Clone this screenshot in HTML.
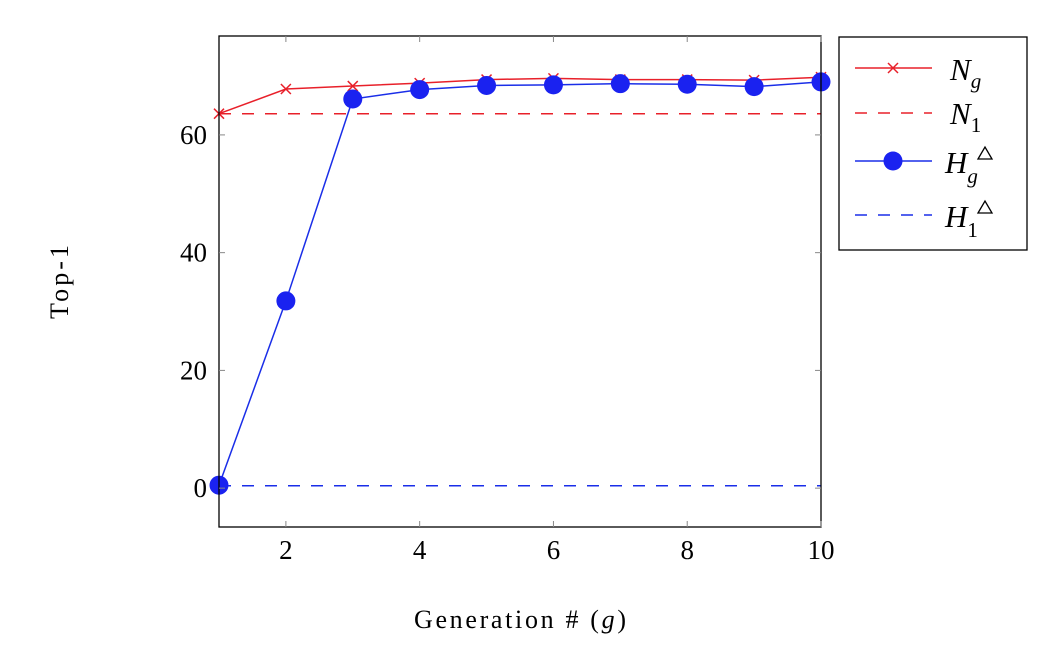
<!DOCTYPE html>
<html><head><meta charset="utf-8"><style>
body{margin:0;background:#fff;}
svg{display:block;font-family:"Liberation Serif",serif;}
</style></head><body>
<svg id="chart" width="1064" height="658" xmlns="http://www.w3.org/2000/svg">
<g id="grid"></g>
<g id="series"></g>
<rect x="219" y="36" width="602" height="491" fill="none" stroke="#000" stroke-width="1.3"/>
<g id="ticks"></g>
<text x="520" y="628" font-size="26" text-anchor="middle" textLength="212">Generation # (<tspan font-style="italic">g</tspan>)</text>
<text transform="translate(68,282) rotate(-90)" font-size="26" text-anchor="middle" textLength="74">Top-1</text>
<g>
<rect x="839" y="37" width="188" height="213" fill="#fff" stroke="#000" stroke-width="1.3"/>
<g>
<line x1="855" y1="68" x2="932" y2="68" stroke="#e8202a" stroke-width="1.5"/>
<path d="M888 63 L898 73 M888 73 L898 63" stroke="#e8202a" stroke-width="1.5"/>
<text x="950" y="80" font-size="31" font-style="italic">N<tspan font-size="21" dy="8">g</tspan></text></g>
<g>
<line x1="855" y1="113" x2="932" y2="113" stroke="#e8202a" stroke-width="1.5" stroke-dasharray="12,11"/>
<text x="950" y="124" font-size="31" font-style="italic">N<tspan font-size="21" dy="8" font-style="normal">1</tspan></text></g>
<g>
<line x1="855" y1="161" x2="932" y2="161" stroke="#1a2ee8" stroke-width="1.5"/>
<circle cx="893" cy="161" r="9.5" fill="#1a22f0"/>
<text x="945" y="173" font-size="31" font-style="italic">H<tspan font-size="21" dy="10">g</tspan></text>
<path d="M978 159 L985 147 L992 159 Z" fill="none" stroke="#000" stroke-width="1.3"/></g>
<g>
<line x1="855" y1="215" x2="932" y2="215" stroke="#1a2ee8" stroke-width="1.5" stroke-dasharray="12,11"/>
<text x="945" y="227" font-size="31" font-style="italic">H<tspan font-size="21" dy="10" font-style="normal">1</tspan></text>
<path d="M978 213 L985 201 L992 213 Z" fill="none" stroke="#000" stroke-width="1.3"/></g>
</g>
</svg>
<script>
const generations=[1,2,3,4,5,6,7,8,9,10];
const ngValues=[63.6,67.8,68.3,68.8,69.4,69.6,69.4,69.4,69.3,69.8];
const hgValues=[0.5,31.8,66.1,67.7,68.4,68.5,68.7,68.6,68.2,69.0];
const n1Value=63.6;
const h1Value=0.4;
const xTicks=[2,4,6,8,10];
const yTicks=[0,20,40,60];
const NS="http://www.w3.org/2000/svg";
const X0=219,X1=821,Y0=527,Y1=36,xMin=1,xMax=10,yMin=-6.6,yMax=76.8;
const sx=v=>X0+(v-xMin)/(xMax-xMin)*(X1-X0);
const sy=v=>Y0-(v-yMin)/(yMax-yMin)*(Y0-Y1);
function mk(tag,attrs,parent){const e=document.createElementNS(NS,tag);for(const k in attrs)e.setAttribute(k,attrs[k]);parent.appendChild(e);return e;}
const tg=document.getElementById('ticks'),sg=document.getElementById('series');
xTicks.forEach(t=>{
 mk('line',{x1:sx(t),x2:sx(t),y1:Y0,y2:Y0-6,stroke:'#888','stroke-width':1},tg);
 mk('line',{x1:sx(t),x2:sx(t),y1:Y1,y2:Y1+6,stroke:'#888','stroke-width':1},tg);
 const tx=mk('text',{x:sx(t),y:559,'font-size':27,'text-anchor':'middle'},tg);tx.textContent=t;
 
 
});
yTicks.forEach(t=>{
 mk('line',{x1:X0,x2:X0+6,y1:sy(t),y2:sy(t),stroke:'#888','stroke-width':1},tg);
 mk('line',{x1:X1,x2:X1-6,y1:sy(t),y2:sy(t),stroke:'#888','stroke-width':1},tg);
 const tx=mk('text',{x:207,y:sy(t)+9,'font-size':27,'text-anchor':'end'},tg);tx.textContent=t;
 
 
});
const n1=mk('line',{x1:X0,x2:X1,y1:sy(n1Value),y2:sy(n1Value),stroke:'#e8202a','stroke-width':1.5,'stroke-dasharray':'12,11'},sg);


const h1=mk('line',{x1:X0,x2:X1,y1:sy(h1Value),y2:sy(h1Value),stroke:'#1a2ee8','stroke-width':1.5,'stroke-dasharray':'12,11'},sg);


const ngl=mk('polyline',{points:generations.map((g,i)=>sx(g)+','+sy(ngValues[i])).join(' '),fill:'none',stroke:'#e8202a','stroke-width':1.5},sg);


generations.forEach((g,i)=>{const x=sx(g),y=sy(ngValues[i]);
 const m=mk('path',{d:`M${x-5} ${y-5}L${x+5} ${y+5}M${x-5} ${y+5}L${x+5} ${y-5}`,stroke:'#e8202a','stroke-width':1.5},sg);
 
 });
const hgl=mk('polyline',{points:generations.map((g,i)=>sx(g)+','+sy(hgValues[i])).join(' '),fill:'none',stroke:'#1a2ee8','stroke-width':1.5},sg);


generations.forEach((g,i)=>{
 const c=mk('circle',{cx:sx(g),cy:sy(hgValues[i]),r:9.5,fill:'#1a22f0'},sg);
 
 });
</script>
</body></html>
